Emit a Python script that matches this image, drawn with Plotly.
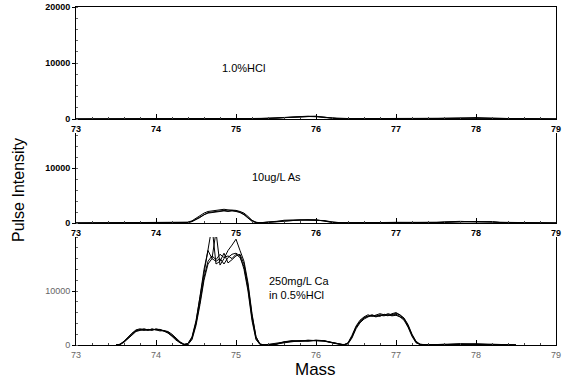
import plotly.graph_objects as go

# ---- Panel 1: 1.0% HCl ----
mass1 = [73.0, 73.5, 74.0, 74.5, 75.0, 75.3, 75.5, 75.6, 75.7, 75.8,
         75.9, 76.0, 76.1, 76.2, 76.3, 76.5, 77.0, 77.5, 77.8, 78.0,
         78.2, 78.5, 79.0]
hcl_a = [0, 50, 100, 50, 50, 50, 150, 250, 350, 400, 450, 400, 350, 150, 50, 50, 80, 50, 150, 200, 150, 50, 0]
hcl_b = [0, 80, 60, 80, 30, 80, 200, 300, 400, 450, 500, 450, 300, 100, 30, 80, 50, 80, 180, 150, 200, 30, 0]
hcl_c = [0, 30, 120, 30, 80, 30, 100, 200, 300, 350, 400, 500, 250, 200, 80, 30, 100, 30, 120, 250, 100, 80, 0]

# ---- Panel 2: 10 ug/L As ----
mass2 = [73.0, 73.5, 74.0, 74.3, 74.4, 74.45, 74.5, 74.55, 74.6, 74.65,
         74.7, 74.75, 74.8, 74.85, 74.9, 74.95, 75.0, 75.05, 75.1, 75.15,
         75.2, 75.25, 75.3, 75.5, 75.6, 75.7, 75.8, 75.9, 76.0, 76.1,
         76.2, 76.3, 76.5, 77.0, 77.5, 77.6, 77.8, 78.0, 78.2, 78.3,
         78.5, 79.0]
as_a = [0, 50, 100, 50, 100, 300, 700, 1200, 1600, 1900,
        2000, 2100, 2200, 2300, 2200, 2300, 2200, 2000, 1600, 1000,
        400, 100, 50, 300, 400, 500, 500, 600, 500, 400,
        150, 50, 50, 100, 50, 150, 250, 250, 200, 100, 50, 0]
as_b = [0, 80, 80, 80, 150, 400, 900, 1400, 1800, 2100,
        2200, 2300, 2400, 2500, 2400, 2400, 2300, 2100, 1800, 1200,
        500, 150, 30, 250, 500, 550, 600, 550, 600, 350,
        100, 30, 80, 80, 80, 200, 300, 200, 250, 80, 30, 0]
as_c = [0, 30, 120, 30, 80, 250, 600, 1000, 1500, 1800,
        1900, 2000, 2100, 2200, 2100, 2200, 2100, 1900, 1500, 900,
        300, 80, 60, 200, 350, 450, 550, 500, 450, 450,
        200, 60, 30, 120, 60, 120, 200, 280, 150, 120, 60, 0]

# ---- Panel 3: 250 mg/L Ca in 0.5% HCl ----
mass3 = [73.5, 73.55, 73.6, 73.65, 73.7, 73.75, 73.8, 73.85, 73.9, 73.95,
         74.0, 74.05, 74.1, 74.15, 74.2, 74.25, 74.3, 74.35, 74.4, 74.45,
         74.5, 74.55, 74.6, 74.65, 74.7, 74.75, 74.8, 74.85, 74.9, 74.95,
         75.0, 75.05, 75.1, 75.15, 75.2, 75.25, 75.3, 75.35, 75.5, 75.6,
         75.7, 75.8, 75.9, 76.0, 76.1, 76.2, 76.3, 76.35, 76.4, 76.45,
         76.5, 76.55, 76.6, 76.65, 76.7, 76.75, 76.8, 76.85, 76.9, 76.95,
         77.0, 77.05, 77.1, 77.15, 77.2, 77.25, 77.3, 77.4, 77.6, 77.8,
         78.0, 78.2, 78.5]
ca_a = [0, 100, 600, 1300, 2000, 2600, 2800, 2700, 2900, 2800,
        2900, 2700, 2600, 2400, 1800, 1100, 500, 100, 200, 1200,
        4000, 8000, 12500, 15500, 16500, 15800, 16800, 16200, 16500, 16000,
        16800, 16200, 14500, 10500, 5000, 1200, 100, 0, 200, 500,
        700, 700, 800, 800, 700, 400, 100, 50, 300, 1500,
        3200, 4300, 5000, 5300, 5400, 5200, 5500, 5400, 5600, 5500,
        5700, 5300, 4800, 3500, 1800, 500, 100, 50, 100, 200,
        150, 100, 0]
ca_b = [0, 150, 700, 1500, 2200, 2800, 3000, 2800, 2700, 3000,
        2800, 2900, 2500, 2200, 1600, 900, 400, 50, 300, 1500,
        4500, 8800, 13500, 17500, 22000, 15000, 15500, 17000, 15200, 15800,
        16500, 16800, 15000, 11000, 5500, 1500, 200, 0, 150, 400,
        600, 800, 700, 900, 800, 500, 150, 0, 400, 1800,
        3500, 4600, 5200, 5600, 5300, 5500, 5800, 5600, 5400, 5800,
        6000, 5600, 5000, 3800, 2000, 700, 150, 0, 150, 150,
        200, 50, 0]
ca_c = [0, 50, 500, 1200, 1900, 2500, 2700, 2900, 2800, 2700,
        3000, 2800, 2700, 2500, 2000, 1200, 600, 150, 100, 1000,
        3600, 7500, 12000, 15000, 16000, 21000, 14800, 16000, 17500, 18500,
        19600, 17500, 15500, 11500, 5800, 1500, 150, 50, 100, 600,
        800, 700, 900, 800, 800, 400, 100, 100, 200, 1300,
        3000, 4100, 4800, 5200, 5500, 5400, 5300, 5700, 5500, 5400,
        5500, 5200, 4600, 3300, 1600, 400, 100, 100, 50, 250,
        100, 150, 0]
ca_d = [0, 120, 650, 1400, 2100, 2700, 2900, 3000, 2800, 2900,
        2800, 2600, 2700, 2300, 1700, 1000, 450, 80, 250, 1400,
        4200, 9000, 14000, 17500, 16000, 15500, 16000, 15000, 16200, 16800,
        17000, 16500, 14000, 10000, 4500, 1000, 100, 0, 250, 550,
        750, 800, 750, 850, 750, 450, 120, 30, 350, 1600,
        3300, 4400, 5100, 5400, 5600, 5300, 5600, 5500, 5800, 5600,
        5900, 5500, 4900, 3600, 1900, 600, 120, 30, 120, 180,
        180, 80, 0]

x_ticks = [73, 74, 75, 76, 77, 78, 79]

fig = go.Figure()

def add(xs, ys, xa, ya):
    fig.add_trace(go.Scatter(x=xs, y=ys, mode="lines", xaxis=xa, yaxis=ya,
                             line=dict(color="black", width=1), showlegend=False,
                             hoverinfo="skip"))

for ys in (hcl_a, hcl_b, hcl_c):
    add(mass1, ys, "x", "y")
for ys in (as_a, as_b, as_c):
    add(mass2, ys, "x2", "y2")
for ys in (ca_a, ca_b, ca_c, ca_d):
    add(mass3, ys, "x3", "y3")

W, H = 568, 380

def fx(px):
    return px / W

def fy(py):
    return min(1.0, 1 - py / H)

xdom = [fx(76), fx(556)]

def px_y(top, bottom):
    return [fy(bottom), fy(top)]

tickfont_b = dict(family="Liberation Sans", size=9, color="black", weight="bold")
tickfont_g = dict(family="Liberation Sans", size=9, color="#666")

def xaxis(anchor, top_line=False, font=tickfont_b):
    return dict(domain=xdom, range=[73, 79], anchor=anchor, tickvals=x_ticks,
                showline=True, linecolor="black", linewidth=1, automargin=False,
                mirror=top_line, ticks="inside", ticklen=5, tickcolor="black",
                minor=dict(dtick=0.2, ticks="inside", ticklen=2, tickcolor="#444"),
                showgrid=False, zeroline=False, tickfont=font, ticklabelstandoff=1)

def yaxis(anchor, dom, rng, vals, texts, font=tickfont_b):
    return dict(domain=dom, range=rng, anchor=anchor, tickvals=vals, ticktext=texts,
                showline=True, linecolor="black", linewidth=1, mirror=True, automargin=False,
                ticks="outside", ticklen=3, tickcolor="black",
                minor=dict(dtick=2000, ticks="inside", ticklen=2, tickcolor="#666"),
                showgrid=False, zeroline=False, tickfont=font)

fig.update_layout(
    width=W, height=H, margin=dict(l=0, r=0, t=0, b=0),
    paper_bgcolor="white", plot_bgcolor="white",
    xaxis=xaxis("y", top_line=True),
    yaxis=yaxis("x", px_y(7, 119), [0, 20000], [0, 10000, 20000], ["0", "10000", "20000"]),
    xaxis2=xaxis("y2"),
    yaxis2=yaxis("x2", px_y(133, 223), [0, 16400], [0, 10000], ["0", "10000"]),
    xaxis3=xaxis("y3", font=tickfont_g),
    yaxis3=yaxis("x3", px_y(237, 345), [0, 20000], [0, 10000], ["0", "10000"], font=tickfont_g),
    font=dict(family="Liberation Sans", color="black"),
)

annots = [
    dict(text="1.0%HCl", x=243, y=68, size=11, xanchor="center"),
    dict(text="10ug/L As", x=250, y=177, size=11, xanchor="left"),
    dict(text="250mg/L Ca<br>in 0.5%HCl", x=267, y=288, size=11, xanchor="left"),
]
for a in annots:
    fig.add_annotation(text=a["text"], x=fx(a["x"]), y=fy(a["y"]), xref="paper", yref="paper",
                       xanchor=a["xanchor"], yanchor="middle", showarrow=False,
                       align="left", font=dict(family="Liberation Sans", size=a["size"], color="black"))

fig.add_annotation(text="Pulse Intensity", x=fx(18), y=fy(190), xref="paper", yref="paper",
                   textangle=-90, showarrow=False, xanchor="center", yanchor="middle",
                   font=dict(family="Liberation Sans", size=16, color="black"))
fig.add_annotation(text="Mass", x=fx(315), y=fy(369), xref="paper", yref="paper",
                   showarrow=False, xanchor="center", yanchor="middle",
                   font=dict(family="Liberation Sans", size=17, color="black"))

fig.write_html("out.html", config={"displayModeBar": False},
               post_script="document.body.style.margin='0px';document.body.style.overflow='hidden';")
